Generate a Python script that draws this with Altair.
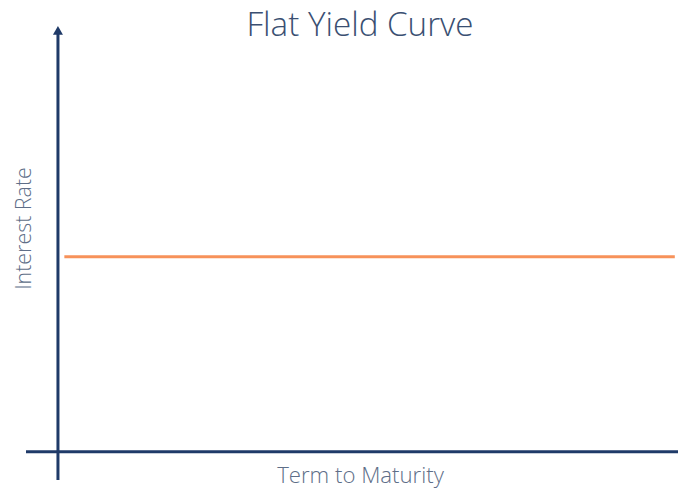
import altair as alt
import pandas as pd

# Flat curve (arbitrary units, no ticks shown)
term = [1.0, 96.5]
rate = [43.0, 43.0]

# Extent of the drawn axes (data units)
x_domain = [-5.0, 97.0]
y_domain = [-6.2, 93.8]
xaxis_start = [-5.0]
xaxis_end = [97.0]
xaxis_level = [0.0]
yaxis_pos = [0.0]
yaxis_start = [-6.2]
yaxis_end = [93.0]
arrow_y = [93.8]

NAVY = "#1F3A68"
ORANGE = "#F7925A"
TITLE_C = "#3A4F72"
LABEL_C = "#5E6E88"
XT = "Term to Maturity"
YT = "Interest Rate"

xs = alt.Scale(domain=x_domain, nice=False, zero=False)
ys = alt.Scale(domain=y_domain, nice=False, zero=False)

curve_df = pd.DataFrame({"term": term, "rate": rate})
xaxis_df = pd.DataFrame({"x1": xaxis_start, "x2": xaxis_end, "y": xaxis_level})
yaxis_df = pd.DataFrame({"x": yaxis_pos, "y1": yaxis_start, "y2": yaxis_end})
arrow_df = pd.DataFrame({"x": yaxis_pos, "y": arrow_y})

curve = alt.Chart(curve_df).mark_line(color=ORANGE, strokeWidth=3).encode(
    x=alt.X("term:Q", scale=xs, title=XT),
    y=alt.Y("rate:Q", scale=ys, title=YT),
)
xaxis = alt.Chart(xaxis_df).mark_rule(color=NAVY, strokeWidth=3).encode(
    x=alt.X("x1:Q", scale=xs, title=XT), x2="x2:Q",
    y=alt.Y("y:Q", scale=ys, title=YT),
)
yaxis = alt.Chart(yaxis_df).mark_rule(color=NAVY, strokeWidth=3).encode(
    x=alt.X("x:Q", scale=xs, title=XT),
    y=alt.Y("y1:Q", scale=ys, title=YT), y2="y2:Q",
)
arrow = alt.Chart(arrow_df).mark_point(
    shape="triangle-up", filled=True, size=100, color=NAVY, opacity=1, yOffset=4.3
).encode(
    x=alt.X("x:Q", scale=xs, title=XT),
    y=alt.Y("y:Q", scale=ys, title=YT),
)

chart = (
    alt.layer(curve, xaxis, yaxis, arrow)
    .properties(
        width=652,
        height=454,
        autosize=alt.AutoSizeParams(type="none"),
        padding={"left": 18, "top": 18, "right": 0, "bottom": 9},
        title=alt.Title(
            "Flat Yield Curve",
            font="Open Sans",
            fontSize=33.2,
            fontWeight=300,
            color=TITLE_C,
            anchor="middle",
            dx=8,
            dy=21,
        ),
    )
    .configure_view(stroke=None)
    .configure_axis(
        domain=False, ticks=False, labels=False, grid=False,
        titleFont="Open Sans", titleFontWeight=300,
        titleColor=LABEL_C, titleBaseline="alphabetic", titleAlign="center",
    )
    .configure_axisX(titleX=334, titleY=2.5, titleFontSize=22.2)
    .configure_axisY(titleX=4, titleY=202, titleAngle=270, titleFontSize=21.4)
)

chart.save("out.html", embed_options={"renderer": "svg", "actions": False})
